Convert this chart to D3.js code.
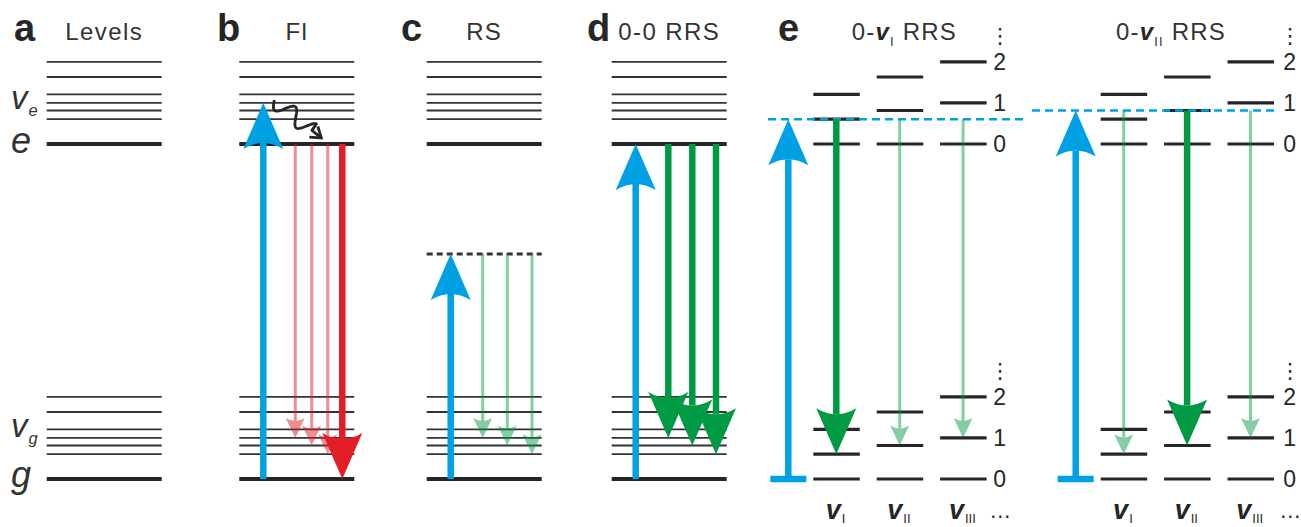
<!DOCTYPE html>
<html><head><meta charset="utf-8">
<script src="https://cdn.jsdelivr.net/npm/d3@7"></script>
<style>body{margin:0;background:#fff}svg{display:block}</style>
</head><body><svg id="c" width="1301" height="527"></svg>
<script>
// ---------- data ----------
const panelLetters = ["a","b","c","d","e"];
const panelTitles = ["Levels","Fl","RS","0-0 RRS"];
const modeNames = ["I","II","III"];
const vibQuantum = [0.074, 0.100, 0.1225];   // one quantum of each mode (fraction of g→e gap)
const quanta = [0, 1, 2];
const groundEnergy = 0;
const excitedEnergy = 1;
const virtualEnergy = 0.672;
const emissionTargets = [[2,1],[1,1],[0,1]]; // [mode, quanta] reached by the three emission arrows in b,c,d
const flPumpMode = 2;                         // FI excitation lands on e + 1 quantum of mode III
const rrsPumpedModes = [0, 1];                // e panels: 0-vI and 0-vII

// ---------- styles ----------
const INK = "#262626", BLUE = "#00a0e4", GREEN = "#009a44", RED = "#e31e26";
const FONT = "'Liberation Sans', Arial, Helvetica, sans-serif";

const svg = d3.select("#c");
const y = d3.scaleLinear().domain([groundEnergy, excitedEnergy]).range([479, 144]);
const panelLeft = d3.scaleOrdinal().domain(panelLetters.slice(0,4)).range([46.7, 239.3, 426.7, 611.7]);
const letterX = d3.scaleOrdinal().domain(panelLetters).range([14, 217, 401, 587, 778]);
const PW = 115;
const eLeft = d3.scaleOrdinal().domain(rrsPumpedModes).range([813.3, 1100.7]);
const colX = d3.scaleLinear().domain([0, 1]).range([0, 63.4]);
const CW = 46.5;

const vibLevels = [];
vibQuantum.forEach(q => [1,2].forEach(n => vibLevels.push(n*q)));

const gLevels = svg.append("g"), gDash = svg.append("g"), gArr = svg.append("g"), gText = svg.append("g");

function hline(g, x0, x1, yy, w, col, dash){
  const l = g.append("line").attr("x1",x0).attr("x2",x1).attr("y1",yy).attr("y2",yy)
    .attr("stroke",col||INK).attr("stroke-width",w);
  if(dash) l.attr("stroke-dasharray",dash);
  return l;
}
function arrow(x, y0, y1, col, thick, op){
  const dir = Math.sign(y1 - y0);
  const L = thick ? 46 : 20, W = thick ? 20 : 9.5, n = thick ? 6 : 3, sw = thick ? 6.5 : 3;
  const yb = y1 - dir*L;
  const g = gArr.append("g").attr("opacity", op==null?1:op);
  g.append("line").attr("x1",x).attr("x2",x).attr("y1",y0).attr("y2",yb + dir*n)
    .attr("stroke",col).attr("stroke-width",sw);
  g.append("path").attr("d",`M${x},${y1}L${x-W},${yb}Q${x},${yb+dir*2*n} ${x+W},${yb}Z`).attr("fill",col);
}

// ---------- panel letters ----------
panelLetters.forEach(p => {
  gText.append("text").attr("x", letterX(p)).attr("y", 41).attr("font-size",38).attr("font-weight","bold")
    .attr("font-family",FONT).attr("fill",INK).text(p);
});

// ---------- panels a-d ----------
panelLetters.slice(0,4).forEach((p,i) => {
  const L = panelLeft(p);
  hline(gLevels, L, L+PW, y(groundEnergy), 4);
  hline(gLevels, L, L+PW, y(excitedEnergy), 4);
  vibLevels.forEach(v => {
    hline(gLevels, L, L+PW, y(groundEnergy+v), 1.8, "#333");
    hline(gLevels, L, L+PW, y(excitedEnergy+v), 1.8, "#333");
  });
  gText.append("text").attr("x", L + PW/2).attr("y", 39.5).attr("text-anchor","middle").attr("font-size",24)
    .attr("letter-spacing",1.4).attr("font-family",FONT).attr("fill","#333").text(panelTitles[i]);
});
function italicLabel(x, yy, main, sub, size){
  const t = gText.append("text").attr("x",x).attr("y",yy).attr("font-family",FONT).attr("font-style","italic")
    .attr("fill","#333").attr("font-size",size);
  t.append("tspan").text(main);
  if(sub) t.append("tspan").attr("font-size",size*0.5).attr("dy",7).attr("dx",1).text(sub);
}
italicLabel(11, 109, "v", "e", 33);
italicLabel(11, 153, "e", null, 36);
italicLabel(11, 437, "v", "g", 33);
italicLabel(11, 487, "g", null, 36);

// panel b (Fl)
{
  const L = panelLeft("b");
  arrow(L+24, y(groundEnergy), y(excitedEnergy + vibQuantum[flPumpMode]), BLUE, true);
  [56, 72.4, 88.4].forEach((dx,k) => {
    const [m,nq] = emissionTargets[k];
    arrow(L+dx, y(excitedEnergy), y(groundEnergy + nq*vibQuantum[m]), RED, false, 0.5);
  });
  arrow(L+103, y(excitedEnergy), y(groundEnergy), RED, true);
  // wavy relaxation arrow
  const P0=[L+35, y(excitedEnergy+vibQuantum[flPumpMode])-3], P1=[L+82, y(excitedEnergy)-6];
  const d=[P1[0]-P0[0], P1[1]-P0[1]], len=Math.hypot(d[0],d[1]), u=[d[0]/len,d[1]/len], nr=[-u[1],u[0]];
  const pts=d3.range(0,1.0001,0.01).map(t=>{
    const a = t<0.8 ? 8*Math.sin(2*Math.PI*1.75*t/0.8) : 0;
    return [P0[0]+d[0]*t+nr[0]*a, P0[1]+d[1]*t+nr[1]*a];
  });
  gArr.append("path").attr("d",d3.line()(pts)).attr("fill","none")
    .attr("stroke",INK).attr("stroke-width",2.8).attr("stroke-linejoin","round");
  const ang = Math.atan2(u[1],u[0]);
  const ch = [ang+Math.PI-0.6, ang+Math.PI+0.6].map(a=>[P1[0]+12*Math.cos(a), P1[1]+12*Math.sin(a)]);
  gArr.append("path").attr("d",`M${ch[0][0]},${ch[0][1]}L${P1[0]},${P1[1]}L${ch[1][0]},${ch[1][1]}`)
    .attr("fill","none").attr("stroke",INK).attr("stroke-width",2.8);
}
// panel c (RS)
{
  const L = panelLeft("c");
  hline(gDash, L, L+PW, y(virtualEnergy), 3, "#333", "6,4");
  arrow(L+24, y(groundEnergy), y(virtualEnergy), BLUE, true);
  [56, 80.6, 105.3].forEach((dx,k) => {
    const [m,nq] = emissionTargets[k];
    arrow(L+dx, y(virtualEnergy), y(groundEnergy + nq*vibQuantum[m]), GREEN, false, 0.48);
  });
}
// panel d (0-0 RRS)
{
  const L = panelLeft("d");
  arrow(L+24, y(groundEnergy), y(excitedEnergy), BLUE, true);
  [56.6, 80.6, 104.3].forEach((dx,k) => {
    const [m,nq] = emissionTargets[k];
    arrow(L+dx, y(excitedEnergy), y(groundEnergy + nq*vibQuantum[m]), GREEN, true);
  });
}

// ---------- panel e ----------
const eTitleX = [851.7, 1116];
const eDash = [[768, 1028], [1032, 1277]];
const eLabelDx = [180, 182.5];
rrsPumpedModes.forEach((m, k) => {
  const L = eLeft(m);
  modeNames.forEach((nm, j) => {
    const x0 = L + colX(j);
    quanta.forEach(n => {
      hline(gLevels, x0, x0+CW, y(groundEnergy + n*vibQuantum[j]), 3.2, INK);
      hline(gLevels, x0, x0+CW, y(excitedEnergy + n*vibQuantum[j]), 3.2, INK);
    });
    const t = gText.append("text").attr("x", x0 + CW/2 - 1).attr("y", 519).attr("text-anchor","middle")
      .attr("font-family",FONT).attr("fill",INK);
    t.append("tspan").attr("font-size",27).attr("font-weight","bold").attr("font-style","italic").text("v");
    t.append("tspan").attr("font-size",13).attr("dy",4).attr("dx",1).text(nm);
    const thick = j === m;
    arrow(x0 + 23, y(excitedEnergy + vibQuantum[m]), y(groundEnergy + vibQuantum[j]), GREEN, thick, thick?1:0.48);
  });
  quanta.forEach(n => {
    [excitedEnergy, groundEnergy].forEach(base => {
      gText.append("text").attr("x", L + eLabelDx[k]).attr("y", y(base + n*vibQuantum[2]))
        .attr("dominant-baseline","central").attr("font-size",23).attr("font-family",FONT)
        .attr("fill",INK).text(n);
    });
  });
  [excitedEnergy, groundEnergy].forEach(base => {
    gText.append("text").attr("x", L + eLabelDx[k] + 7).attr("y", y(base + 2*vibQuantum[2]) - 26)
      .attr("text-anchor","middle").attr("dominant-baseline","central").attr("font-size",21)
      .attr("font-family","'DejaVu Sans', sans-serif").attr("fill",INK).text("⋮");
  });
  gText.append("text").attr("x", L + eLabelDx[k] + 7).attr("y", 518).attr("text-anchor","middle")
    .attr("font-size",22).attr("font-family",FONT).attr("fill",INK).text("…");
  hline(gDash, eDash[k][0], eDash[k][1], y(excitedEnergy + vibQuantum[m]), 2.6, BLUE, "8,5");
  const bx = L - 25;
  arrow(bx, y(groundEnergy), y(excitedEnergy + vibQuantum[m]), BLUE, true);
  gArr.append("line").attr("x1", bx-18).attr("x2", bx+18).attr("y1", y(groundEnergy)).attr("y2", y(groundEnergy))
    .attr("stroke", BLUE).attr("stroke-width", 6.5);
  const t = gText.append("text").attr("x", eTitleX[k]).attr("y", 39.5).attr("font-size",24)
    .attr("font-family",FONT).attr("fill","#333").attr("letter-spacing",1.2);
  t.append("tspan").text("0-");
  t.append("tspan").attr("font-weight","bold").attr("font-style","italic").attr("fill",INK).text("v");
  t.append("tspan").attr("font-size",13).attr("dy",6).text(modeNames[m]);
  t.append("tspan").attr("dy",-6).text(" RRS");
});
</script></body></html>
